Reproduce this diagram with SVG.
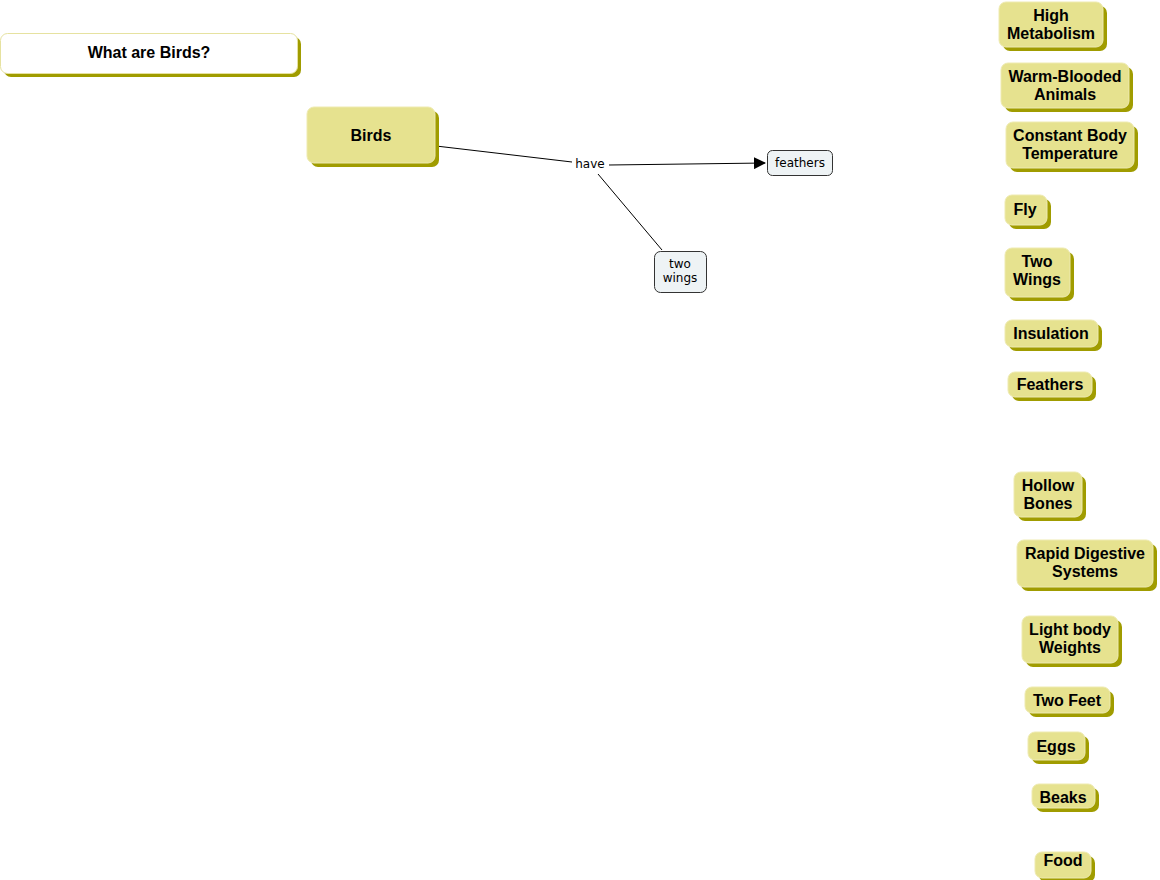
<svg xmlns="http://www.w3.org/2000/svg" width="1160" height="880" viewBox="0 0 1160 880">
<style>
.sh{fill:#a09c00}
.c{fill:#e6e28f;stroke:#eeeab0;stroke-width:1}
.w{fill:#ffffff;stroke:#e6e2a0;stroke-width:1}
.b{fill:#eef3f5;stroke:#333333;stroke-width:1}
.t{font-family:"Liberation Sans",Arial,sans-serif;font-weight:bold;font-size:16px;fill:#000;text-anchor:middle}
.s{font-family:"DejaVu Sans",Verdana,sans-serif;font-size:12px;fill:#000;text-anchor:middle}
.ln{stroke:#000;stroke-width:1;fill:none}
</style>
<defs>
<marker id="ah" markerWidth="12" markerHeight="12" refX="11" refY="6" orient="auto" markerUnits="userSpaceOnUse">
<path d="M0,0 L12,6 L0,12 Z" fill="#000"/>
</marker>
</defs>
<rect width="1160" height="880" fill="#fff"/>
<g id="connectors">
<line class="ln" x1="436" y1="146" x2="572" y2="162"/>
<line class="ln" x1="609" y1="165" x2="765" y2="163" marker-end="url(#ah)"/>
<line class="ln" x1="598" y1="174" x2="662" y2="250"/>
<text class="s" x="590" y="168">have</text>
</g>
<g id="what">
<rect class="sh" x="4" y="37" width="297" height="40" rx="7"/>
<rect class="w" x="0.5" y="33.5" width="297" height="40" rx="7"/>
<text class="t" x="149" y="58">What are Birds?</text>
</g>
<g id="birds">
<rect class="sh" x="311" y="111" width="128" height="56" rx="7"/>
<rect class="c" x="307" y="107" width="128" height="56" rx="7"/>
<text class="t" x="371" y="141">Birds</text>
</g>
<g id="feathers-small">
<rect class="b" x="767.5" y="150.5" width="65" height="25" rx="5"/>
<text class="s" x="800" y="167">feathers</text>
</g>
<g id="twowings-small">
<rect class="b" x="654.5" y="251.5" width="52" height="41" rx="6"/>
<text class="s" x="680" y="268">two</text>
<text class="s" x="680" y="282">wings</text>
</g>
<g id="high-metabolism">
<rect class="sh" x="1003" y="6" width="104" height="45" rx="7"/>
<rect class="c" x="999" y="2" width="104" height="45" rx="7"/>
<text class="t" x="1051" y="21">High</text>
<text class="t" x="1051" y="39">Metabolism</text>
</g>
<g id="warm-blooded">
<rect class="sh" x="1005" y="67" width="128" height="45" rx="7"/>
<rect class="c" x="1001" y="63" width="128" height="45" rx="7"/>
<text class="t" x="1065" y="82">Warm-Blooded</text>
<text class="t" x="1065" y="100">Animals</text>
</g>
<g id="constant-body">
<rect class="sh" x="1010" y="126" width="128" height="46" rx="7"/>
<rect class="c" x="1006" y="122" width="128" height="46" rx="7"/>
<text class="t" x="1070" y="141">Constant Body</text>
<text class="t" x="1070" y="159">Temperature</text>
</g>
<g id="fly">
<rect class="sh" x="1009" y="199" width="42" height="30" rx="7"/>
<rect class="c" x="1005" y="195" width="42" height="30" rx="7"/>
<text class="t" x="1025" y="215">Fly</text>
</g>
<g id="two-wings">
<rect class="sh" x="1009" y="252" width="65" height="49" rx="7"/>
<rect class="c" x="1005" y="248" width="65" height="49" rx="7"/>
<text class="t" x="1037" y="267">Two</text>
<text class="t" x="1037" y="285">Wings</text>
</g>
<g id="insulation">
<rect class="sh" x="1009" y="324" width="93" height="27" rx="7"/>
<rect class="c" x="1005" y="320" width="93" height="27" rx="7"/>
<text class="t" x="1051" y="339">Insulation</text>
</g>
<g id="feathers">
<rect class="sh" x="1012" y="376" width="84" height="25" rx="7"/>
<rect class="c" x="1008" y="372" width="84" height="25" rx="7"/>
<text class="t" x="1050" y="390">Feathers</text>
</g>
<g id="hollow-bones">
<rect class="sh" x="1018" y="476" width="68" height="45" rx="7"/>
<rect class="c" x="1014" y="472" width="68" height="45" rx="7"/>
<text class="t" x="1048" y="491">Hollow</text>
<text class="t" x="1048" y="509">Bones</text>
</g>
<g id="rapid-digestive">
<rect class="sh" x="1021" y="544" width="136" height="47" rx="7"/>
<rect class="c" x="1017" y="540" width="136" height="47" rx="7"/>
<text class="t" x="1085" y="559">Rapid Digestive</text>
<text class="t" x="1085" y="577">Systems</text>
</g>
<g id="light-body">
<rect class="sh" x="1026" y="620" width="96" height="47" rx="7"/>
<rect class="c" x="1022" y="616" width="96" height="47" rx="7"/>
<text class="t" x="1070" y="635">Light body</text>
<text class="t" x="1070" y="653">Weights</text>
</g>
<g id="two-feet">
<rect class="sh" x="1029" y="691" width="85" height="26" rx="7"/>
<rect class="c" x="1025" y="687" width="85" height="26" rx="7"/>
<text class="t" x="1067" y="706">Two Feet</text>
</g>
<g id="eggs">
<rect class="sh" x="1032" y="736" width="57" height="28" rx="7"/>
<rect class="c" x="1028" y="732" width="57" height="28" rx="7"/>
<text class="t" x="1056" y="752">Eggs</text>
</g>
<g id="beaks">
<rect class="sh" x="1036" y="788" width="63" height="24" rx="7"/>
<rect class="c" x="1032" y="784" width="63" height="24" rx="7"/>
<text class="t" x="1063" y="803">Beaks</text>
</g>
<g id="food">
<rect class="sh" x="1039" y="856" width="56" height="26" rx="7"/>
<rect class="c" x="1035" y="852" width="56" height="26" rx="7"/>
<text class="t" x="1063" y="866">Food</text>
</g>
</svg>
